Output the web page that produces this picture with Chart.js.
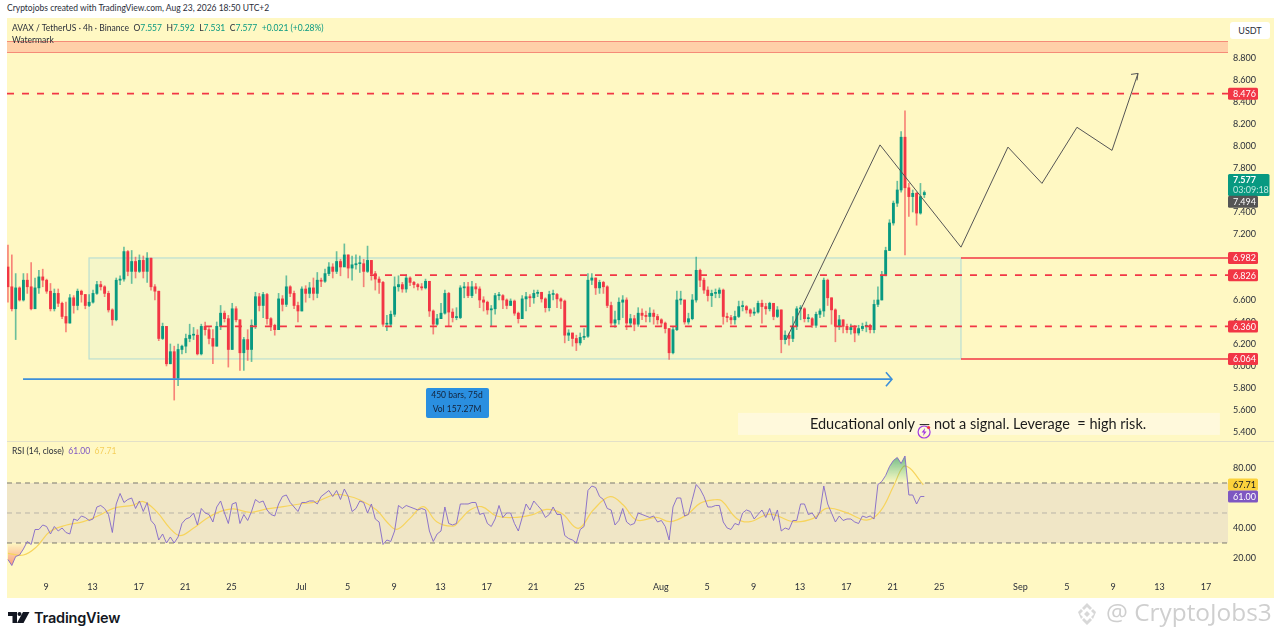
<!DOCTYPE html>
<html>
<head>
<meta charset="utf-8">
<title>AVAX / TetherUS</title>
<script src="https://cdn.jsdelivr.net/npm/chart.js@4/dist/chart.umd.min.js"></script>
<style>
    html, body { margin: 0; padding: 0; background: #fff; width: 1280px; height: 639px; overflow: hidden; }
    body { font-family: Lato, sans-serif; color: #2a2e39; position: relative; }
    #pane { position: absolute; left: 7px; top: 18px; width: 1267px; height: 580px; background: #FFF8C3; }
    #paneLine { position: absolute; left: 7px; top: 441px; width: 1267px; height: 1px; background: #E3E0C8; }
    canvas { position: absolute; left: 7px; }
    #priceCanvas { top: 18px; }
    #rsiCanvas { top: 441px; }
    .txt { position: absolute; white-space: nowrap; font-size: 8.5px; line-height: 11px; }
    .gap { margin-left: 4.5px; }
    .up { color: #089981; }
    .rsi { color: #7E57C2; }
    .ma { color: #F5CF5B; }
    #usdt { position: absolute; left: 1230px; top: 22px; width: 40px; height: 17px; background: #fff; border-radius: 3px;
            font-size: 9px; line-height: 17px; text-align: center; }
    #brand { left: 34px; top: 609px; font-family: Inter, sans-serif; font-size: 14.5px; line-height: 18px; font-weight: 600; color: #131722; letter-spacing: -0.2px; }
    #mark { left: 1106px; top: 597px; font-family: "Open Sans", sans-serif; font-size: 24.4px; line-height: 30px; color: #CFCFCF; }
    svg { position: absolute; }
</style>
</head>
<body>
<div id="pane"></div>
<canvas id="priceCanvas" width="1267" height="423"></canvas>
<canvas id="rsiCanvas" width="1267" height="157"></canvas>
<div id="paneLine"></div>

<div class="txt" style="left:7px;top:3px">Cryptojobs created with TradingView.com, Aug 23, 2026 18:50 UTC+2</div>
<div class="txt" style="left:12px;top:23px">AVAX / TetherUS · 4h · Binance<span class="gap">O</span><span class="up">7.557</span><span class="gap">H</span><span class="up">7.592</span><span class="gap">L</span><span class="up">7.531</span><span class="gap">C</span><span class="up">7.577</span><span class="gap up">+0.021 (+0.28%)</span></div>
<div class="txt" style="left:12px;top:35px">Watermark</div>
<div class="txt" style="left:12px;top:446px">RSI (14, close)<span class="gap rsi">61.00</span><span class="gap ma">67.71</span></div>
<div id="usdt">USDT</div>

<svg style="left:8px;top:612px" width="22" height="11" viewBox="0 0 22 11">
    <path d="M0 0h9v11H4.500V4H0z M15 0h6.500L15.500 11H9z" fill="#131722"/><circle cx="11.500" cy="2" r="2" fill="#131722"/>
</svg>
<div class="txt" id="brand">TradingView</div>
<svg style="left:1073px;top:602px" width="28" height="24" viewBox="0 0 28 24">
    <path d="M14 1l5 5-2 2-3-3-3 3-2-2z M5 10l3-3 2 2-3 3 3 3-2 2z M23 10l-3-3-2 2 3 3-3 3 2 2z M14 9l3 3-3 3-3-3z M14 23l-5-5 2-2 3 3 3-3 2 2z" fill="#D8D8D8"/>
</svg>
<div class="txt" id="mark">@ CryptoJobs3</div>

<script>
"use strict";

// 4h candles (thinned to every other bar)
const barOpen = [6.90,6.72,6.52,6.71,6.60,6.78,6.72,6.52,6.71,6.81,
    6.78,6.68,6.52,6.66,6.57,6.45,6.39,6.62,6.55,6.68,
    6.65,6.55,6.58,6.66,6.74,6.72,6.66,6.51,6.42,6.78,
    6.79,7.04,6.86,6.95,6.86,6.96,6.86,6.98,6.72,6.68,
    6.25,6.36,6.02,6.13,5.89,6.15,6.18,6.25,6.28,6.28,
    6.11,6.36,6.33,6.25,6.18,6.36,6.48,6.43,6.15,6.52,
    6.42,6.12,6.24,6.15,6.37,6.63,6.55,6.65,6.43,6.37,
    6.33,6.61,6.56,6.72,6.66,6.55,6.50,6.70,6.66,6.71,
    6.66,6.78,6.77,6.84,6.90,6.86,6.95,6.90,7.01,6.89,
    6.92,6.93,6.93,6.86,6.96,6.84,6.79,6.76,6.38,6.38,
    6.47,6.72,6.74,6.70,6.80,6.76,6.74,6.72,6.71,6.77,
    6.50,6.38,6.43,6.48,6.66,6.49,6.44,6.44,6.71,6.72,
    6.64,6.72,6.70,6.60,6.58,6.51,6.52,6.64,6.64,6.60,
    6.55,6.59,6.48,6.43,6.61,6.63,6.62,6.66,6.67,6.61,
    6.53,6.65,6.65,6.61,6.59,6.28,6.30,6.25,6.21,6.26,
    6.27,6.78,6.80,6.71,6.76,6.72,6.55,6.39,6.42,6.58,
    6.60,6.39,6.43,6.38,6.48,6.46,6.45,6.48,6.45,6.42,
    6.39,6.34,6.12,6.33,6.60,6.60,6.40,6.43,6.60,6.87,
    6.78,6.69,6.64,6.66,6.66,6.69,6.45,6.44,6.42,6.45,
    6.54,6.54,6.51,6.48,6.49,6.57,6.54,6.52,6.57,6.45,
    6.51,6.24,6.28,6.25,6.36,6.52,6.52,6.43,6.43,6.37,
    6.47,6.50,6.78,6.62,6.51,6.36,6.42,6.36,6.33,6.35,
    6.30,6.34,6.36,6.37,6.33,6.56,6.60,6.82,7.05,7.30,
    7.48,7.60,8.08,7.62,7.54,7.57,7.39,7.557];
const barHigh = [7.10,7.01,6.84,6.72,6.84,6.84,6.94,6.80,6.87,6.88,
    6.79,6.75,6.70,6.70,6.58,6.58,6.65,6.64,6.70,6.69,
    6.65,6.65,6.69,6.77,6.77,6.73,6.68,6.52,6.80,6.82,
    7.08,7.05,7.05,6.99,7.01,7.00,7.03,6.98,6.74,6.68,
    6.39,6.36,6.20,6.18,6.20,6.19,6.29,6.38,6.35,6.33,
    6.38,6.40,6.35,6.33,6.40,6.55,6.50,6.46,6.57,6.54,
    6.42,6.26,6.33,6.42,6.67,6.66,6.67,6.66,6.44,6.38,
    6.66,6.64,6.82,6.73,6.68,6.58,6.72,6.73,6.76,6.80,
    6.85,6.80,6.88,6.94,6.93,7.04,6.97,7.11,7.01,7.00,
    7.01,7.00,6.97,7.09,6.96,6.86,6.81,6.77,6.46,6.50,
    6.81,6.82,6.76,6.83,6.81,6.77,6.75,6.75,6.79,6.77,
    6.51,6.47,6.57,6.69,6.67,6.52,6.53,6.73,6.76,6.76,
    6.77,6.75,6.72,6.63,6.59,6.55,6.66,6.67,6.65,6.61,
    6.61,6.60,6.49,6.64,6.67,6.65,6.69,6.69,6.67,6.62,
    6.68,6.69,6.66,6.62,6.60,6.33,6.30,6.28,6.30,6.34,
    6.84,6.84,6.80,6.78,6.77,6.73,6.58,6.50,6.62,6.64,
    6.62,6.47,6.46,6.53,6.52,6.50,6.53,6.51,6.47,6.43,
    6.40,6.34,6.36,6.68,6.68,6.60,6.48,6.65,6.99,6.88,
    6.80,6.72,6.69,6.70,6.71,6.70,6.48,6.46,6.50,6.59,
    6.59,6.55,6.52,6.53,6.59,6.60,6.57,6.58,6.56,6.54,
    6.51,6.32,6.30,6.45,6.54,6.55,6.53,6.47,6.44,6.49,
    6.52,6.80,6.79,6.62,6.52,6.46,6.42,6.38,6.38,6.37,
    6.37,6.39,6.40,6.38,6.60,6.72,6.86,7.08,7.33,7.50,
    7.68,8.13,8.32,7.66,7.60,7.58,7.66,7.592];
const barLow = [6.58,6.50,6.24,6.59,6.59,6.66,6.51,6.52,6.66,6.72,
    6.66,6.50,6.50,6.54,6.43,6.31,6.39,6.48,6.51,6.58,
    6.52,6.54,6.57,6.65,6.69,6.63,6.49,6.37,6.41,6.74,
    6.77,6.82,6.75,6.80,6.85,6.80,6.76,6.69,6.60,6.23,
    6.24,6.00,6.02,5.69,5.82,6.11,6.12,6.22,6.24,6.10,
    6.10,6.28,6.20,6.02,6.18,6.33,6.40,5.99,6.15,6.40,
    5.96,5.96,6.05,6.04,6.34,6.50,6.44,6.38,6.32,6.28,
    6.33,6.50,6.54,6.63,6.52,6.40,6.50,6.58,6.62,6.60,
    6.62,6.72,6.76,6.82,6.80,6.84,6.82,6.92,6.80,6.78,
    6.88,6.85,6.72,6.85,6.78,6.69,6.66,6.36,6.32,6.36,
    6.45,6.68,6.67,6.67,6.73,6.71,6.69,6.69,6.70,6.45,
    6.29,6.37,6.44,6.47,6.36,6.40,6.42,6.43,6.62,6.62,
    6.62,6.66,6.53,6.50,6.47,6.36,6.47,6.60,6.52,6.52,
    6.55,6.46,6.39,6.43,6.50,6.54,6.57,6.63,6.58,6.49,
    6.50,6.60,6.53,6.52,6.21,6.23,6.18,6.14,6.19,6.24,
    6.26,6.74,6.65,6.66,6.66,6.53,6.37,6.35,6.38,6.44,
    6.33,6.36,6.32,6.36,6.42,6.40,6.40,6.38,6.38,6.36,
    6.30,6.06,6.11,6.32,6.56,6.38,6.38,6.42,6.58,6.72,
    6.66,6.59,6.54,6.62,6.62,6.38,6.40,6.38,6.38,6.44,
    6.50,6.48,6.45,6.46,6.48,6.39,6.47,6.50,6.42,6.44,
    6.12,6.20,6.19,6.22,6.33,6.42,6.40,6.40,6.35,6.35,
    6.44,6.45,6.55,6.38,6.22,6.33,6.30,6.30,6.29,6.22,
    6.28,6.32,6.31,6.30,6.30,6.54,6.60,6.82,7.05,7.28,
    7.45,7.58,7.01,7.36,7.40,7.28,7.38,7.531];
const barClose = [6.72,6.52,6.71,6.60,6.78,6.72,6.52,6.71,6.81,6.78,
    6.68,6.52,6.66,6.57,6.45,6.39,6.62,6.55,6.68,6.65,
    6.55,6.58,6.66,6.74,6.72,6.66,6.51,6.42,6.78,6.79,
    7.04,6.86,6.95,6.86,6.96,6.86,6.98,6.72,6.68,6.25,
    6.36,6.02,6.13,5.89,6.15,6.18,6.25,6.28,6.28,6.11,
    6.36,6.33,6.25,6.18,6.36,6.48,6.43,6.15,6.52,6.42,
    6.12,6.24,6.15,6.37,6.63,6.55,6.65,6.43,6.37,6.33,
    6.61,6.56,6.72,6.66,6.55,6.50,6.70,6.66,6.71,6.66,
    6.78,6.77,6.84,6.90,6.86,6.95,6.90,7.01,6.89,6.92,
    6.93,6.93,6.86,6.96,6.84,6.79,6.76,6.38,6.38,6.47,
    6.72,6.74,6.70,6.80,6.76,6.74,6.72,6.71,6.77,6.50,
    6.38,6.43,6.48,6.66,6.49,6.44,6.44,6.71,6.72,6.64,
    6.72,6.70,6.60,6.58,6.51,6.52,6.64,6.64,6.60,6.55,
    6.59,6.48,6.43,6.61,6.63,6.62,6.66,6.67,6.61,6.53,
    6.65,6.65,6.61,6.59,6.28,6.30,6.25,6.21,6.26,6.27,
    6.78,6.80,6.71,6.76,6.72,6.55,6.39,6.42,6.58,6.60,
    6.39,6.43,6.38,6.48,6.46,6.45,6.48,6.45,6.42,6.39,
    6.34,6.12,6.33,6.60,6.60,6.40,6.43,6.60,6.87,6.78,
    6.69,6.64,6.66,6.66,6.69,6.45,6.44,6.42,6.45,6.54,
    6.54,6.51,6.48,6.49,6.57,6.54,6.52,6.57,6.45,6.51,
    6.24,6.28,6.25,6.36,6.52,6.52,6.43,6.43,6.37,6.47,
    6.50,6.78,6.62,6.51,6.36,6.42,6.36,6.33,6.35,6.30,
    6.34,6.36,6.37,6.33,6.56,6.60,6.82,7.05,7.30,7.48,
    7.60,8.08,7.62,7.54,7.57,7.39,7.54,7.577];

// RSI per bar
const rsiValues = [19,15,21,22,26,31,29,39,39,42,
    41,36,41,38,40,37,36,46,45,48,
    47,45,46,54,55,53,49,37,56,63,
    57,59,60,53,58,51,57,45,42,32,
    36,30,34,30,34,43,46,47,50,42,
    53,50,49,44,54,58,50,43,56,57,
    43,49,45,51,59,57,58,52,49,48,
    56,61,62,57,54,51,57,57,58,58,
    56,61,63,65,61,65,59,66,61,51,
    53,58,57,50,56,46,44,29,32,31,
    38,55,53,55,54,53,52,53,52,38,
    31,36,38,54,43,42,43,56,56,56,
    57,57,49,50,43,41,46,55,47,50,
    50,43,38,47,56,52,58,55,52,47,
    49,54,49,49,35,33,32,30,39,41,
    65,68,67,61,59,53,52,42,45,53,
    44,42,43,50,49,48,47,48,44,45,
    41,32,54,60,60,48,49,59,69,66,
    61,54,54,55,55,44,40,39,43,42,
    50,52,51,46,49,52,47,53,45,52,
    38,40,39,45,45,56,56,49,50,46,
    51,68,56,50,44,48,45,46,46,44,
    43,48,47,48,46,69,71,75,81,85,
    87,83,88,62,62,56,61,61];

// RSI moving average, sparse points (day, value)
const maDays = [-3.28,-1.95,-0.8,0.34,1.78,3.22,4.65,5.8,7.53,8.39,9.54,10.69,11.55,12.7,13.85,15,16.15,17.59,19.02,20.46,21.9,23.33,24.77,25.63,27.07,28.5,29.37,30.23,31.38,32.53,33.68,35.12,35.69,
    36.55,37.56,38.85,40.57,41.87,43.16,44.45,45.89,47.18,48.62,49.77,50.92,52.64,53.79,55.23,56.38,57.53,58.25,59.54,60.69,62.41,64.43,66.15,67.3,69.02,70.75,71.9,73.05,73.91,74.48,75.2,75.63];
const maValues = [23.1,22,27.6,37.6,42,44.2,48.7,53.1,55.3,57.6,50.9,39.8,34.9,39.8,46.4,50.9,52.7,50.4,52.7,54.2,56,57.6,62,62,58.7,52,44.2,39.1,46.4,54.2,44.2,41.3,45.3,
    52,54.2,48,47.1,48.7,52.4,49.8,39.8,52,60.9,55.3,45.3,47.1,44.2,48.7,56.4,58.7,58.2,46.4,44.2,49.3,44.2,46.4,53.1,50.2,45.3,50.9,67.6,80.9,79.8,73.1,68.7];

// time axis: days since Jun 9
const firstBarDay = -3.28;
const barStepDays = 1 / 3;
const dayMin = -3.362;
const dayMax = 101.9;
const tickDays = [0,4,8,12,16,22,26,30,34,38,42,46,53,57,61,65,69,73,77,84,88,92,96,100];
const tickLabels = ["9","13","17","21","25","Jul","5","9","13","17","21","25","Aug","5","9","13","17","21","25","Sep","5","9","13","17"];

const priceTicks = [8.8,8.6,8.4,8.2,8.0,7.8,7.6,7.4,7.2,6.6,6.4,6.2,6.0,5.8,5.6,5.4];
const rsiTicks = [80,40,20];

// drawn levels and shapes
const targetLevel = 8.476;
const rangeTop = 6.982;
const rangeUpperMid = 6.826;
const rangeLowerMid = 6.36;
const rangeBottom = 6.064;
const rangeStartDay = 3.71;
const rangeEndDay = 78.88;
const upperMidStartDay = 27.93;
const lowerMidStartDay = 13.7;
const bandTop = 8.95;
const bandBottom = 8.85;
const pathDays = [63.79,71.9,78.88,82.93,85.86,88.88,91.9,94.14];
const pathPrices = [6.236,8.01,7.08,7.99,7.66,8.17,7.96,8.66];
const spanDays = [-1.98,72.93];
const spanPrice = 5.88;
const lastPrice = 7.577;
const otherPrice = 7.494;

const green = "#089981";
const red = "#F23645";

Chart.defaults.font.family = 'Lato, sans-serif';
Chart.defaults.font.size = 9;
Chart.defaults.color = "#2a2e39";
Chart.defaults.animation = false;

const barDay = barClose.map((c, i) => firstBarDay + i * barStepDays);
const barColors = barClose.map((c, i) => c >= barOpen[i] ? green : red);
const wickColors = barClose.map((c, i) => c >= barOpen[i] ? "rgba(8,153,129,0.6)" : "rgba(242,54,69,0.6)");

function levelLine(level, fromDay, dashed, color) {
    return {
        type: "line",
        data: [{ x: fromDay, y: level }, { x: dayMax, y: level }],
        borderColor: color || red,
        borderWidth: 1.6,
        borderDash: dashed ? [7, 8] : [],
        pointRadius: 0,
        order: 1
    };
}

function badge(ctx, y, h, w, color, text, textColor) {
    ctx.fillStyle = color;
    ctx.beginPath();
    ctx.roundRect(1221, y - h / 2, w, h, 1.5);
    ctx.fill();
    ctx.fillStyle = textColor;
    ctx.textAlign = "left";
    ctx.textBaseline = "middle";
    ctx.font = '9px Lato, sans-serif';
    ctx.fillText(text, 1226, y + 0.5);
}

function chevron(ctx, x, y, dx1, dy1, dx2, dy2) {
    ctx.beginPath();
    ctx.moveTo(x + dx1, y + dy1);
    ctx.lineTo(x, y);
    ctx.lineTo(x + dx2, y + dy2);
    ctx.stroke();
}

const priceOverlay = {
    id: "priceOverlay",
    beforeDatasetsDraw(chart) {
        let ctx = chart.ctx;
        let x = chart.scales.x;
        let y = chart.scales.y;
        ctx.save();
        // order block rectangle
        let rx = x.getPixelForValue(rangeStartDay);
        let rw = x.getPixelForValue(rangeEndDay) - rx;
        let ry = y.getPixelForValue(rangeTop);
        let rh = y.getPixelForValue(rangeBottom) - ry;
        ctx.fillStyle = "#F5F6C8";
        ctx.fillRect(rx, ry, rw, rh);
        ctx.strokeStyle = "#BBDFD2";
        ctx.lineWidth = 1.2;
        ctx.strokeRect(rx, ry, rw, rh);
        // top band
        let by = y.getPixelForValue(bandTop);
        let bh = y.getPixelForValue(bandBottom) - by;
        ctx.fillStyle = "#FFD0A8";
        ctx.fillRect(0, by, chart.chartArea.right, bh);
        ctx.strokeStyle = "#F58C78";
        ctx.beginPath();
        ctx.moveTo(0, by);
        ctx.lineTo(chart.chartArea.right, by);
        ctx.moveTo(0, by + bh);
        ctx.lineTo(chart.chartArea.right, by + bh);
        ctx.stroke();
        ctx.restore();
    },
    afterDatasetsDraw(chart) {
        let ctx = chart.ctx;
        let x = chart.scales.x;
        let y = chart.scales.y;
        ctx.save();
        // arrow heads
        ctx.strokeStyle = "#3D8FD9";
        ctx.lineWidth = 1.6;
        chevron(ctx, x.getPixelForValue(spanDays[1]), y.getPixelForValue(spanPrice), -6, -7, -6, 7);
        ctx.strokeStyle = "#555";
        ctx.lineWidth = 1;
        let n = pathDays.length - 1;
        chevron(ctx, x.getPixelForValue(pathDays[n]), y.getPixelForValue(pathPrices[n]), -7, 1, -1, 7);

        // measure label
        ctx.fillStyle = "#2A8FE0";
        ctx.beginPath();
        ctx.roundRect(x.getPixelForValue(32.76), y.getPixelForValue(5.8), 63, 30, 2);
        ctx.fill();
        ctx.fillStyle = "#14233a";
        ctx.font = '8.5px Lato, sans-serif';
        ctx.textAlign = "center";
        ctx.textBaseline = "middle";
        ctx.fillText("450 bars, 75d", x.getPixelForValue(35.43), y.getPixelForValue(5.736));
        ctx.fillText("Vol 157.27M", x.getPixelForValue(35.43), y.getPixelForValue(5.609));

        // note
        ctx.fillStyle = "#FFF9DC";
        let nx = x.getPixelForValue(59.66);
        let ny = y.getPixelForValue(5.573);
        ctx.fillRect(nx, ny, x.getPixelForValue(101.2) - nx, y.getPixelForValue(5.373) - ny);
        ctx.fillStyle = "#1c1c1c";
        ctx.font = '14.5px Lato, sans-serif';
        ctx.fillText("Educational only — not a signal. Leverage  = high risk.", x.getPixelForValue(80.35), y.getPixelForValue(5.47));

        // alert icon
        let ax = x.getPixelForValue(75.7);
        let ay = y.getPixelForValue(5.4);
        ctx.strokeStyle = "#A23BE0";
        ctx.lineWidth = 1.2;
        ctx.beginPath();
        ctx.arc(ax, ay, 6, 0, 2 * Math.PI);
        ctx.stroke();
        ctx.fillStyle = "#A23BE0";
        ctx.beginPath();
        ctx.moveTo(ax + 1, ay - 4);
        ctx.lineTo(ax - 2.5, ay + 0.5);
        ctx.lineTo(ax - 0.3, ay + 0.5);
        ctx.lineTo(ax - 1, ay + 4);
        ctx.lineTo(ax + 2.5, ay - 0.5);
        ctx.lineTo(ax + 0.3, ay - 0.5);
        ctx.closePath();
        ctx.fill();
        ctx.fillStyle = "#F23645";
        ctx.beginPath();
        ctx.arc(ax + 4.5, ay - 4.5, 1.6, 0, 2 * Math.PI);
        ctx.fill();
        ctx.restore();
    },
    afterDraw(chart) {
        let ctx = chart.ctx;
        let y = chart.scales.y;
        ctx.save();
        [targetLevel, rangeTop, rangeUpperMid, rangeLowerMid, rangeBottom].forEach(level => {
            badge(ctx, y.getPixelForValue(level), 12, 30, red, level.toFixed(3), "#fff");
        });
        // last price badge sits above its level, with the bar countdown
        let py = y.getPixelForValue(lastPrice);
        ctx.fillStyle = green;
        ctx.beginPath();
        ctx.roundRect(1221, py - 18.5, 41.5, 22, 1.5);
        ctx.fill();
        ctx.fillStyle = "#fff";
        ctx.textAlign = "left";
        ctx.textBaseline = "middle";
        ctx.font = 'bold 9px Lato, sans-serif';
        ctx.fillText(lastPrice.toFixed(3), 1226, py - 12.5);
        ctx.fillStyle = "#BFE8DF";
        ctx.font = '9px Lato, sans-serif';
        ctx.fillText("03:09:18", 1226, py - 2);
        badge(ctx, y.getPixelForValue(otherPrice), 12, 30, "#555555", otherPrice.toFixed(3), "#fff");
        ctx.restore();
    }
};

const rsiOverlay = {
    id: "rsiOverlay",
    beforeDatasetsDraw(chart) {
        let ctx = chart.ctx;
        let y = chart.scales.y;
        let right = chart.chartArea.right;
        ctx.save();
        ctx.fillStyle = "#F0E6C6";
        ctx.fillRect(0, y.getPixelForValue(70), right, y.getPixelForValue(30) - y.getPixelForValue(70));
        [70, 50, 30].forEach(level => {
            ctx.strokeStyle = level === 50 ? "rgba(120,123,134,0.45)" : "rgba(90,90,90,0.8)";
            ctx.lineWidth = 1;
            ctx.setLineDash([5, 4]);
            ctx.beginPath();
            ctx.moveTo(0, y.getPixelForValue(level));
            ctx.lineTo(right, y.getPixelForValue(level));
            ctx.stroke();
        });
        ctx.restore();
    },
    afterDraw(chart) {
        let ctx = chart.ctx;
        let y = chart.scales.y;
        ctx.save();
        badge(ctx, y.getPixelForValue(67.71) - 2, 12, 30, "#FBD23C", "67.71", "#131722");
        badge(ctx, y.getPixelForValue(61), 12, 30, "#7E57C2", "61.00", "#fff");
        ctx.restore();
    }
};

// the tick labels otherwise push the plot area in, which shifts the price scale
function fitRightAxis(scale) {
    scale.width = 46;
    scale.paddingTop = 0;
    scale.paddingBottom = 0;
}

function drawPriceChart() {
    let canvas = document.getElementById("priceCanvas");
    new Chart(canvas, {
        type: "bar",
        data: {
            datasets: [
                levelLine(targetLevel, dayMin, true),
                levelLine(rangeUpperMid, upperMidStartDay, true),
                levelLine(rangeLowerMid, lowerMidStartDay, true),
                levelLine(rangeTop, rangeEndDay, false),
                levelLine(rangeBottom, rangeEndDay, false),
                {
                    type: "line",
                    data: pathDays.map((d, i) => ({ x: d, y: pathPrices[i] })),
                    borderColor: "#555",
                    borderWidth: 1,
                    pointRadius: 0,
                    order: 0
                },
                {
                    type: "line",
                    data: spanDays.map(d => ({ x: d, y: spanPrice })),
                    borderColor: "#3D8FD9",
                    borderWidth: 1.8,
                    pointRadius: 0,
                    order: 0
                },
                {
                    // candle bodies
                    data: barDay.map((d, i) => ({ x: d, y: [barOpen[i], barClose[i]] })),
                    backgroundColor: barColors,
                    barThickness: 2.2,
                    minBarLength: 1,
                    grouped: false,
                    order: 2
                },
                {
                    // candle wicks
                    data: barDay.map((d, i) => ({ x: d, y: [barLow[i], barHigh[i]] })),
                    backgroundColor: wickColors,
                    barThickness: 1,
                    grouped: false,
                    order: 3
                }
            ]
        },
        options: {
            responsive: false,
            layout: { padding: 0 },
            plugins: { legend: { display: false }, tooltip: { enabled: false } },
            scales: {
                x: { type: "linear", min: dayMin, max: dayMax, offset: false, display: false },
                y: {
                    position: "right",
                    min: 5.318,
                    max: 9.1636,
                    grid: { display: false, drawTicks: false },
                    border: { display: false },
                    afterFit: fitRightAxis,
                    afterBuildTicks: scale => { scale.ticks = priceTicks.map(v => ({ value: v })); },
                    ticks: { padding: 5, autoSkip: false, callback: v => v.toFixed(3) }
                }
            }
        },
        plugins: [priceOverlay]
    });
}

function drawRsiChart() {
    let canvas = document.getElementById("rsiCanvas");
    let ctx = canvas.getContext("2d");
    // fades used where the RSI leaves the 30-70 band
    let upFade = ctx.createLinearGradient(0, 15, 0, 42);
    upFade.addColorStop(0, "rgba(20,140,90,0.6)");
    upFade.addColorStop(1, "rgba(20,180,120,0)");
    let downFade = ctx.createLinearGradient(0, 102, 0, 128);
    downFade.addColorStop(0, "rgba(242,80,69,0)");
    downFade.addColorStop(1, "rgba(242,80,69,0.65)");
    let rsiPoints = barDay.map((d, i) => ({ x: d, y: rsiValues[i] }));

    new Chart(canvas, {
        type: "line",
        data: {
            datasets: [
                {
                    data: rsiPoints,
                    borderColor: "#8268C8",
                    borderWidth: 0.9,
                    pointRadius: 0,
                    fill: { target: { value: 70 }, above: upFade, below: "rgba(0,0,0,0)" },
                    order: 1
                },
                {
                    data: rsiPoints,
                    borderWidth: 0,
                    pointRadius: 0,
                    fill: { target: { value: 30 }, above: "rgba(0,0,0,0)", below: downFade },
                    order: 3
                },
                {
                    data: maDays.map((d, i) => ({ x: d, y: maValues[i] })),
                    borderColor: "#F7D45C",
                    borderWidth: 1.2,
                    pointRadius: 0,
                    tension: 0.4,
                    order: 2
                }
            ]
        },
        options: {
            responsive: false,
            layout: { padding: 0 },
            plugins: { legend: { display: false }, tooltip: { enabled: false } },
            scales: {
                x: {
                    type: "linear",
                    min: dayMin,
                    max: dayMax,
                    grid: { display: false, drawTicks: false },
                    border: { display: false },
                    afterFit: scale => {
                        scale.height = 24;
                        scale.paddingLeft = 0;
                        scale.paddingRight = 0;
                    },
                    afterBuildTicks: scale => { scale.ticks = tickDays.map(v => ({ value: v })); },
                    ticks: {
                        padding: 8,
                        autoSkip: false,
                        maxRotation: 0,
                        callback: (v, i) => tickLabels[i]
                    }
                },
                y: {
                    position: "right",
                    min: 9.33,
                    max: 98,
                    grid: { display: false, drawTicks: false },
                    border: { display: false },
                    afterFit: fitRightAxis,
                    afterBuildTicks: scale => { scale.ticks = rsiTicks.map(v => ({ value: v })); },
                    ticks: { padding: 5, autoSkip: false, callback: v => v.toFixed(2) }
                }
            }
        },
        plugins: [rsiOverlay]
    });
}

window.addEventListener("DOMContentLoaded", () => {
    drawPriceChart();
    drawRsiChart();
});
</script>
</body>
</html>
